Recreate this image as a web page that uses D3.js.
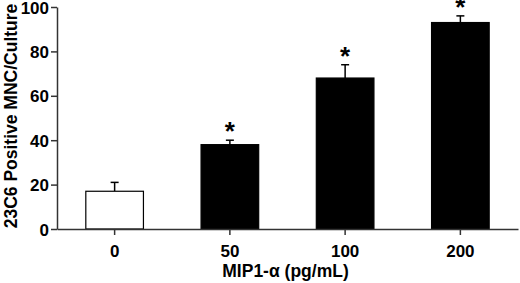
<!DOCTYPE html>
<html>
<head>
<meta charset="utf-8">
<script src="https://cdn.jsdelivr.net/npm/d3@7"></script>
<style>
  body { margin: 0; background: #fff; }
  text { font-family: "Liberation Sans", Arial, sans-serif; font-weight: bold; fill: #000; }
</style>
</head>
<body>
<div id="chart"></div>
<script>
// MIP1-alpha dose vs 23C6 positive MNC
const doses = ["0", "50", "100", "200"];
const means = [17, 38, 68, 93];
const errUpper = [21, 40, 74, 96];
const significant = [false, true, true, true];
const yTicks = [0, 20, 40, 60, 80, 100];

const W = 520, H = 283;
const margin = { top: 7, right: 2, bottom: 54, left: 57 };
const width = W - margin.left - margin.right;
const height = H - margin.top - margin.bottom;

const svg = d3.select("#chart").append("svg")
    .attr("width", W)
    .attr("height", H)
    .append("g")
    .attr("transform", `translate(${margin.left},${margin.top})`);

const x = d3.scaleBand()
    .domain(doses)
    .range([0, width])
    .paddingInner(0.5)
    .paddingOuter(0.25);

const y = d3.scaleLinear()
    .domain([0, 100])
    .range([height, 0]);

const data = doses.map((d, i) => ({ dose: d, mean: means[i], hi: errUpper[i], sig: significant[i] }));

// error bars (upper only)
const eb = svg.selectAll("g.err").data(data).enter().append("g").attr("class", "err");
eb.append("line")
    .attr("x1", d => x(d.dose) + x.bandwidth() / 2)
    .attr("x2", d => x(d.dose) + x.bandwidth() / 2)
    .attr("y1", d => y(d.mean))
    .attr("y2", d => y(d.hi))
    .attr("stroke", "#000").attr("stroke-width", 1.5);
eb.append("line")
    .attr("x1", d => x(d.dose) + x.bandwidth() / 2 - 4)
    .attr("x2", d => x(d.dose) + x.bandwidth() / 2 + 4)
    .attr("y1", d => y(d.hi))
    .attr("y2", d => y(d.hi))
    .attr("stroke", "#000").attr("stroke-width", 1.5);

// bars
svg.selectAll("rect.bar").data(data).enter().append("rect")
    .attr("class", "bar")
    .attr("x", d => x(d.dose))
    .attr("y", d => y(d.mean))
    .attr("width", x.bandwidth())
    .attr("height", d => height - y(d.mean))
    .attr("fill", (d, i) => i === 0 ? "#fff" : "#000")
    .attr("stroke", "#000")
    .attr("stroke-width", 1.2);

// asterisks
svg.selectAll("text.star").data(data.filter(d => d.sig)).enter().append("text")
    .attr("class", "star")
    .attr("x", d => x(d.dose) + x.bandwidth() / 2)
    .attr("y", d => y(d.hi))
    .attr("text-anchor", "middle")
    .style("font-size", "26px")
    .text("*");

// x axis
const xAxis = svg.append("g")
    .attr("transform", `translate(0,${height})`)
    .call(d3.axisBottom(x).tickSize(6).tickSizeOuter(0).tickPadding(10));
xAxis.selectAll("text").style("font-size", "17px");

// y axis
const yAxis = svg.append("g")
    .call(d3.axisLeft(y).tickValues(yTicks).tickSize(6).tickSizeOuter(0).tickPadding(2));
yAxis.selectAll("text").style("font-size", "17px").attr("dy", "0.36em");

svg.selectAll(".domain, .tick line")
    .attr("stroke", "#333")
    .attr("stroke-width", 1.5);

// axis titles
svg.append("text")
    .attr("x", width / 2 - 2)
    .attr("y", height + 48)
    .attr("text-anchor", "middle")
    .style("font-size", "17.5px")
    .text("MIP1-α (pg/mL)");

svg.append("text")
    .attr("transform", "rotate(-90)")
    .attr("x", -height / 2 + 2)
    .attr("y", -margin.left + 17)
    .attr("text-anchor", "middle")
    .style("font-size", "17.5px")
    .text("23C6 Positive MNC/Culture");
</script>
</body>
</html>
